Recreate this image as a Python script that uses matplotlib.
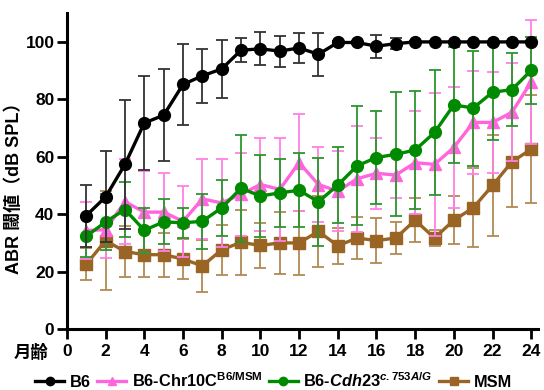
import numpy as np
import matplotlib
matplotlib.use("Agg")
import matplotlib.pyplot as plt

plt.rcParams['font.family'] = ['Liberation Sans', 'Noto Sans CJK JP', 'DejaVu Sans']
plt.rcParams['font.weight'] = 'bold'
plt.rcParams['mathtext.fontset'] = 'custom'
plt.rcParams['mathtext.rm'] = 'Liberation Sans:bold'
plt.rcParams['mathtext.bf'] = 'Liberation Sans:bold'
plt.rcParams['mathtext.it'] = 'Liberation Sans:bold:italic'

months = np.arange(1, 25)

# B6
b6 = [39.5, 46, 57.3, 71.7, 74.4, 85.1, 88.1, 90.5, 97.0, 97.5, 96.7, 97.8,
      95.6, 99.7, 99.7, 98.4, 99.3, 99.9, 99.9, 99.9, 99.9, 99.9, 99.9, 99.9]
b6_err = [10.8, 15.8, 22.4, 16.5, 16, 14.2, 9.3, 10.2, 4.2, 5.8, 5.4, 5.1,
          7.5, 0.5, 0.5, 4, 2, 0.3, 0.3, 0.3, 0.3, 0.3, 0.3, 0.3]

# B6-Chr10C B6/MSM
chr10 = [34.3, 34.6, 44.3, 40.7, 40.7, 37.5, 45.3, 43.9, 46.9, 50.3, 48.6, 57.9,
         50.3, 48.0, 52.3, 54.2, 53.6, 57.9, 57.3, 63.2, 71.9, 71.9, 75.4, 86.0]
chr10_err = [10, 10, 14.8, 14.3, 13.5, 12.3, 14, 15.2, 14.5, 16.3, 17.8, 16.8,
             13.2, 13.9, 18.4, 12.4, 8, 18, 25, 21, 17.8, 17.5, 17, 21.5]

# B6-Cdh23 c.753A/G
cdh23 = [32.3, 37.3, 41.6, 34.4, 37.3, 37.0, 37.5, 42.2, 49.0, 46.3, 47.4, 48.3,
         44.3, 50.1, 56.8, 59.7, 60.8, 62.3, 68.4, 78.0, 76.9, 82.4, 83.3, 90.0]
cdh23_err = [7.2, 9.7, 9.6, 7.8, 7.8, 5.2, 9.6, 9.7, 18.6, 14.4, 11.8, 12.9,
             15.4, 13.1, 20.7, 16.2, 21.6, 20.6, 21.8, 20.1, 20, 16.5, 12.7, 11.7]

# MSM
msm = [22.6, 30.8, 27.0, 25.9, 25.9, 24.4, 22.0, 27.6, 30.2, 29.1, 30.0, 30.0,
       34.0, 29.0, 31.7, 30.8, 31.7, 37.9, 31.7, 37.9, 42.2, 50.0, 58.2, 62.6]
msm_err = [5.5, 17.2, 8.9, 7.9, 7.6, 7, 9, 8.7, 11.4, 7.7, 10.8, 11.1,
           12.3, 6.3, 7.4, 7.8, 5.5, 7.6, 2.7, 8.3, 13.8, 17.5, 15.7, 18.7]

fig = plt.figure(figsize=(5.44, 3.9), dpi=100)
ax = fig.add_axes([0.123, 0.156, 0.866, 0.811])

series = [
    (msm, msm_err, '#9a6424', '#b08a55', 's', 'MSM'),
    (chr10, chr10_err, '#ff66dd', '#ff80e4', '^', r'B6-Chr10C$^{\mathrm{B6/MSM}}$'),
    (cdh23, cdh23_err, '#008a00', '#2a962a', 'o', r'B6-$\mathit{Cdh23}^{\mathit{c.753A/G}}$'),
    (b6, b6_err, '#000000', '#333333', 'o', 'B6'),
]

handles = {}
for vals, err, col, ecol, mk, lab in series:
    ax.errorbar(months, vals, yerr=err, fmt='none', ecolor=ecol,
                elinewidth=1.3, capsize=4.5, capthick=1.3)
    h, = ax.plot(months, vals, color=col, lw=2.4, marker=mk, ms=8.5,
                 markeredgecolor=col, label=lab)
    handles[lab] = h

ax.set_xlim(0, 24.35)
ax.set_ylim(0, 110)
ax.set_xticks(np.arange(0, 25, 2))
ax.set_yticks(np.arange(0, 101, 20))
ax.tick_params(width=2, length=7, labelsize=12.5)
ax.tick_params(axis='y', pad=2)
for s in ['top', 'right']:
    ax.spines[s].set_visible(False)
for s in ['left', 'bottom']:
    ax.spines[s].set_linewidth(2.2)

ax.set_ylabel('ABR 閾値（dB SPL）', fontsize=13, fontweight='bold')
ax.yaxis.set_label_coords(-0.093, 0.46)
fig.text(0.057, 0.095, '月齢', fontsize=12.5, fontweight='bold', ha='center', va='center')

order = ['B6', r'B6-Chr10C$^{\mathrm{B6/MSM}}$',
         r'B6-$\mathit{Cdh23}^{\mathit{c.753A/G}}$', 'MSM']
leg = fig.legend([handles[k] for k in order], order, loc='center',
                 bbox_to_anchor=(0.503, 0.025), ncol=4, frameon=False,
                 fontsize=11.8, handlelength=1.75, handletextpad=0.35,
                 columnspacing=0.4, borderpad=0)
for h in leg.legend_handles:
    h.set_markersize(6)

fig.savefig('out.png', dpi=100)
